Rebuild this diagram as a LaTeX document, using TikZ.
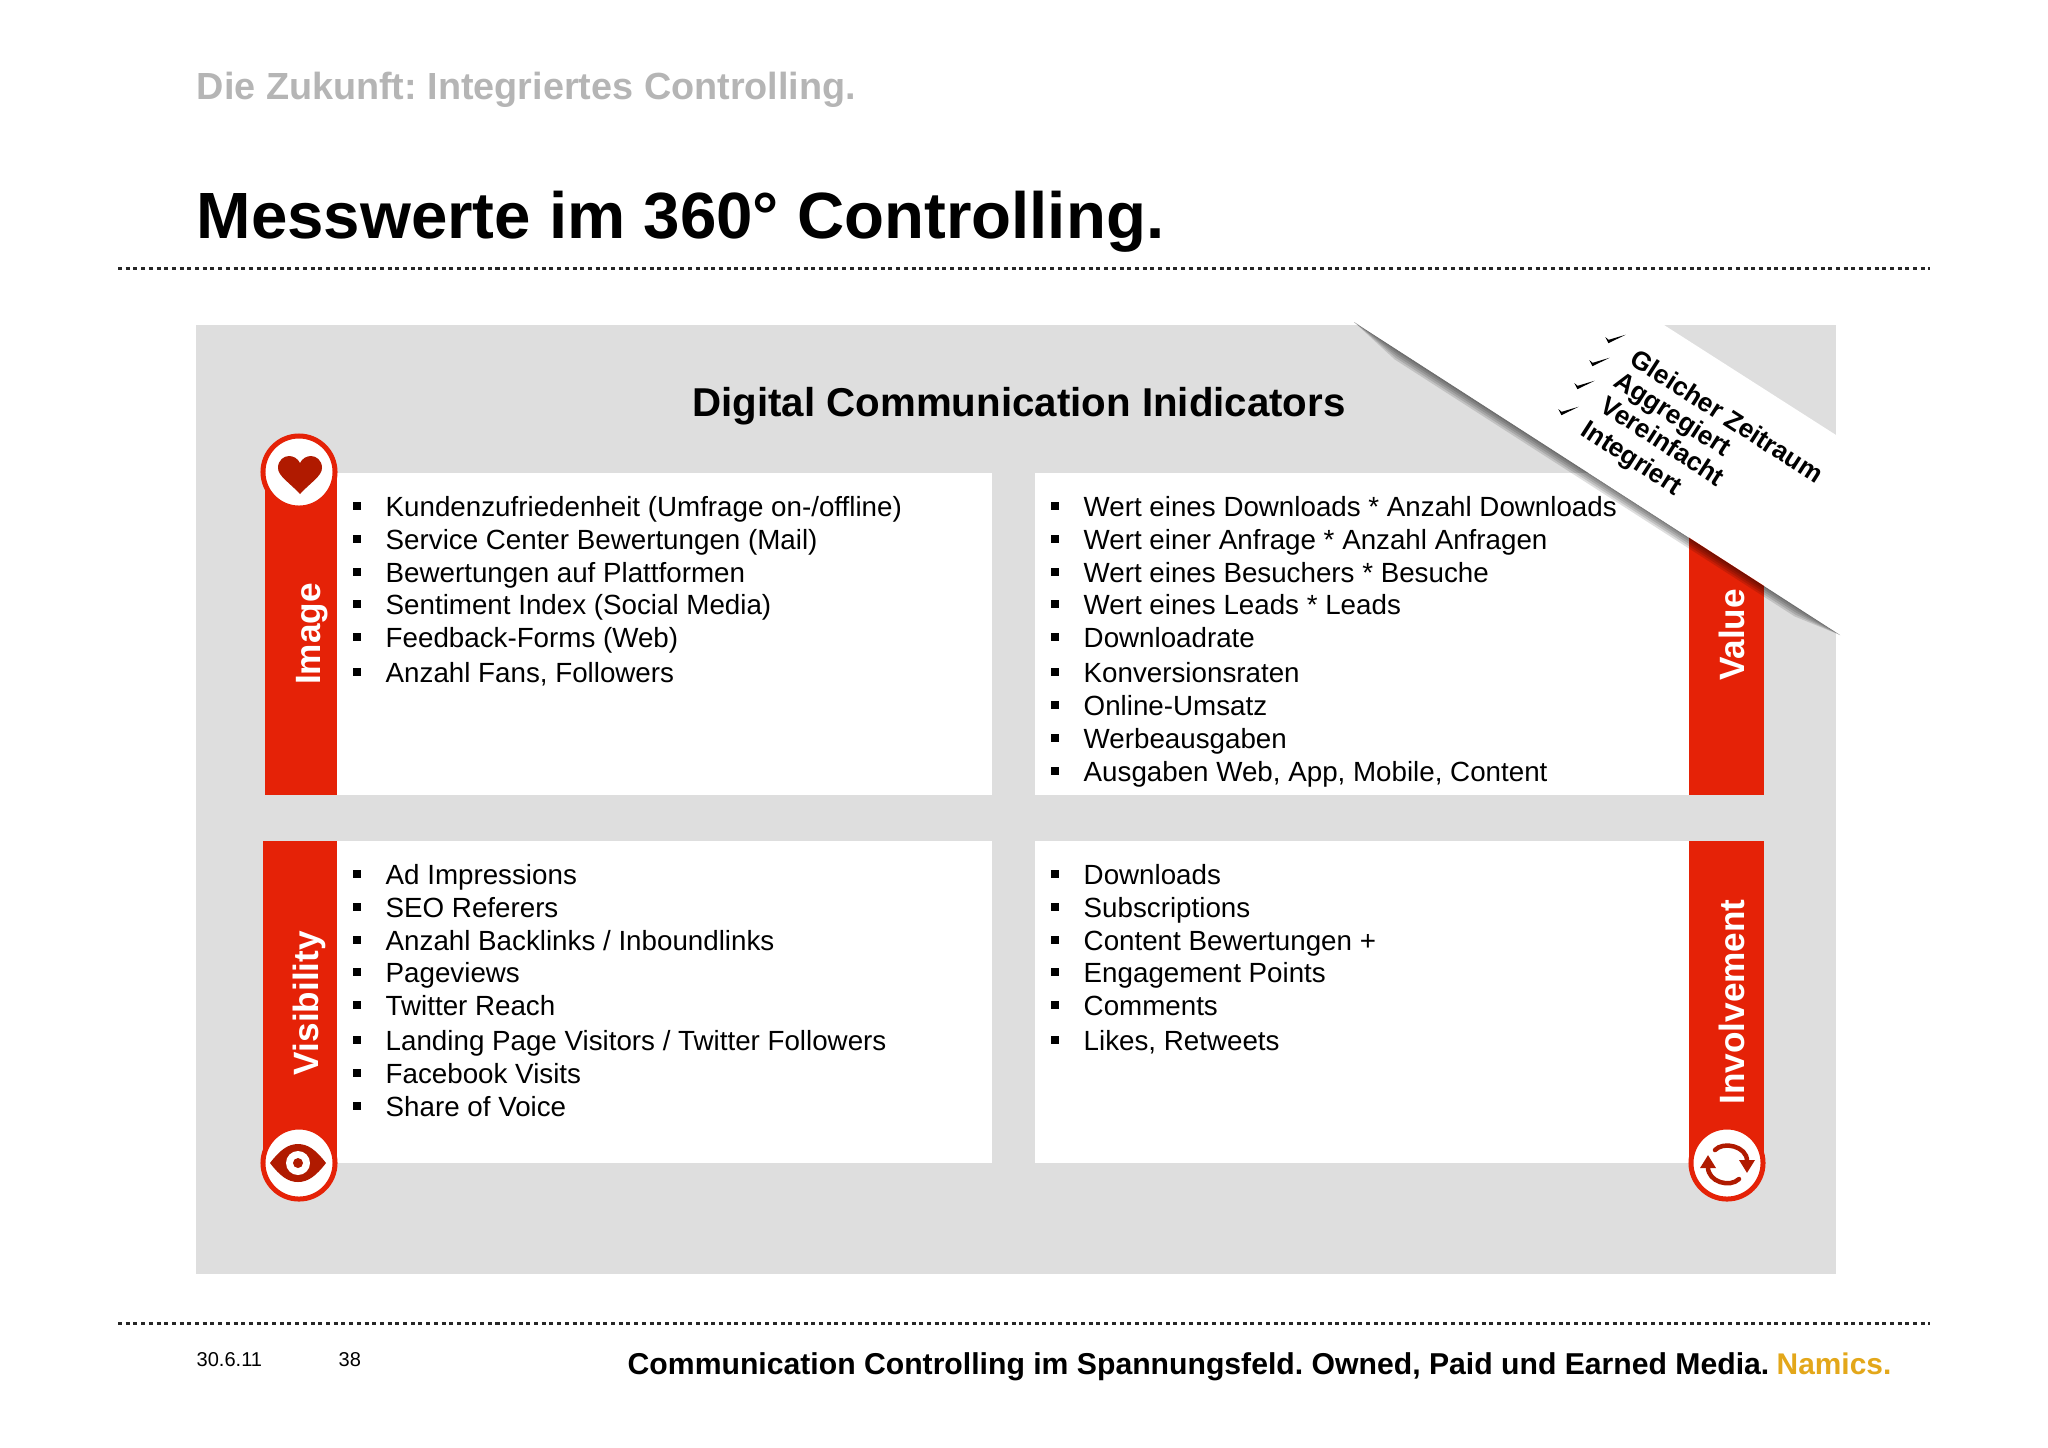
\documentclass[tikz,border=0pt]{standalone}
\usepackage{fontspec}
\setmainfont{Liberation Sans}
\setsansfont{Liberation Sans}
\usetikzlibrary{arrows.meta}
\definecolor{nmred}{HTML}{E52207}
\definecolor{nmdark}{HTML}{B01A00}
\definecolor{nmpanel}{HTML}{DEDEDE}
\definecolor{nmmuted}{HTML}{B5B5B5}
\definecolor{nmgold}{HTML}{E3A71A}
\tikzset{
  item/.style={anchor=west,inner sep=0pt,text height=.20cm,text depth=0pt,font=\fontsize{7.89pt}{9pt}\selectfont,text=black,
    label={[bulletbox,label distance=.23cm]left:}},
  bulletbox/.style={fill=black,inner sep=0pt,minimum size=.083cm},
  sheet/.style={fill=white},
  redbar/.style={fill=nmred},
  badge/.style={circle,draw=nmred,fill=white,line width=.05cm,minimum size=.72cm,inner sep=0pt},
  barlabel/.style={rotate=90,text=white,font=\fontsize{10pt}{11pt}\selectfont\bfseries,inner sep=0pt},
  slant/.style={rotate=-32.8,anchor=base west,inner sep=0pt,font=\fontsize{7.45pt}{9pt}\selectfont\bfseries,text=black},
  tickmark/.pic={\fill[black] (-2.7,-5) -- (.6,-2.2) -- (17.7,-7.3) -- (.4,1.2) -- cycle;},
  rule/.style={line width=.03cm,dash pattern=on .04cm off .037cm,draw=black!85},
  spin/.style={draw=nmdark,line width=.045cm,line cap=round,-{Triangle[length=.13cm,width=.15cm]}},
}
\begin{document}
\frenchspacing
\begin{tikzpicture}[font=\sffamily,x=.01cm,y=-.01cm]
  \useasboundingbox (0,0) rectangle (2048,1447);
  \node[anchor=base west,inner sep=0pt,text=nmmuted,font=\fontsize{10.75pt}{12pt}\selectfont\bfseries] (kicker) at (196,99) {Die Zukunft: Integriertes Controlling.};
  \node[anchor=base west,inner sep=0pt,font=\fontsize{18.6pt}{22pt}\selectfont\bfseries] (title) at (196,238) {Messwerte im 360° Controlling.};
  \draw[rule] (118,268) -- (1930,268);
  \draw[rule] (118,1323) -- (1930,1323);
  % panel and sheets
  \fill[nmpanel] (196,325) rectangle (1836,1274);
  \fill[sheet] (337,473) rectangle (992,795);
  \fill[sheet] (1035,473) rectangle (1690,795);
  \fill[sheet] (337,841) rectangle (992,1163);
  \fill[sheet] (1035,841) rectangle (1690,1163);
  \fill[redbar] (265,471) rectangle (337,795);
  \fill[redbar] (1689,500) rectangle (1764,795);
  \fill[redbar] (263,841) rectangle (337,1162);
  \fill[redbar] (1689,841) rectangle (1764,1162);
  \node[anchor=base,inner sep=0pt,font=\fontsize{11.45pt}{13pt}\selectfont\bfseries] (heading) at (1019,416) {Digital Communication Inidicators};
  % badges
  \node[badge] (imagebadge) at (299,472) {};
  \fill[nmdark] (300,494) .. controls (290,483) and (278,476) .. (278,468) .. controls (278,460) and (284,456) .. (289,456) .. controls (294,456) and (298,459) .. (300,463) .. controls (302,459) and (306,456) .. (311,456) .. controls (316,456) and (322,460) .. (322,468) .. controls (322,476) and (310,483) .. (300,494) -- cycle;
  \node[badge] (visibilitybadge) at (299,1163) {};
  \fill[nmdark] (270,1163) .. controls (280,1150) and (288,1144) .. (298,1144) .. controls (308,1144) and (316,1150) .. (326,1163) .. controls (316,1176) and (308,1182) .. (298,1182) .. controls (288,1182) and (280,1176) .. (270,1163) -- cycle;
  \fill[white] (298,1163) circle (12);
  \fill[nmdark] (298,1163) circle (5);
  \node[badge] (involvebadge) at (1727,1163) {};
  \draw[spin] (1715,1150) .. controls (1723,1141) and (1747,1146) .. (1747,1173);
  \draw[spin] (1739,1179) .. controls (1730,1188) and (1708,1182) .. (1708,1155);
  \node[barlabel] (image) at (312,634) {Image};
  \node[barlabel] (value) at (1732,635) {Value};
  \node[barlabel] (visibility) at (309,1003) {Visibility};
  \node[barlabel] (involvement) at (1732,1002) {Involvement};
  % image
  \node[item] (i1) at (385,506) {Kundenzufriedenheit (Umfrage on-/offline)};
  \node[item] (i2) at (385,539) {Service Center Bewertungen (Mail)};
  \node[item] (i3) at (385,572) {Bewertungen auf Plattformen};
  \node[item] (i4) at (385,604) {Sentiment Index (Social Media)};
  \node[item] (i5) at (385,637) {Feedback-Forms (Web)};
  \node[item] (i6) at (385,672) {Anzahl Fans, Followers};
  % value
  \node[item] (w1) at (1083,506) {Wert eines Downloads * Anzahl Downloads};
  \node[item] (w2) at (1083,539) {Wert einer Anfrage * Anzahl Anfragen};
  \node[item] (w3) at (1083,572) {Wert eines Besuchers * Besuche};
  \node[item] (w4) at (1083,604) {Wert eines Leads * Leads};
  \node[item] (w5) at (1083,637) {Downloadrate};
  \node[item] (w6) at (1083,672) {Konversionsraten};
  \node[item] (w7) at (1083,705) {Online-Umsatz};
  \node[item] (w8) at (1083,738) {Werbeausgaben};
  \node[item] (w9) at (1083,771) {Ausgaben Web, App, Mobile, Content};
  % visibility
  \node[item] (s1) at (385,874) {Ad Impressions};
  \node[item] (s2) at (385,907) {SEO Referers};
  \node[item] (s3) at (385,940) {Anzahl Backlinks / Inboundlinks};
  \node[item] (s4) at (385,972) {Pageviews};
  \node[item] (s5) at (385,1005) {Twitter Reach};
  \node[item] (s6) at (385,1040) {Landing Page Visitors / Twitter Followers};
  \node[item] (s7) at (385,1073) {Facebook Visits};
  \node[item] (s8) at (385,1106) {Share of Voice};
  % involvement
  \node[item] (e1) at (1083,874) {Downloads};
  \node[item] (e2) at (1083,907) {Subscriptions};
  \node[item] (e3) at (1083,940) {Content Bewertungen +};
  \node[item] (e4) at (1083,972) {Engagement Points};
  \node[item] (e5) at (1083,1005) {Comments};
  \node[item] (e6) at (1083,1040) {Likes, Retweets};
  % ribbon
  \foreach \d in {2,4,...,10} {
    \fill[black,opacity=.13] (1354,322) -- ({1400-.54*\d},{351+.84*\d}) -- ({1800-.54*\d},{608+.84*\d}) -- (1840,635) -- cycle;
  }
  \fill[white] (1359,325) -- (1664,325) -- (1836,435) -- (1836,632) -- cycle;
  \node[slant] (g1) at (1628,363) {Gleicher Zeitraum};
  \node[slant] (g2) at (1612,385) {Aggregiert};
  \node[slant] (g3) at (1598,410) {Vereinfacht};
  \node[slant] (g4) at (1579,434) {Integriert};
  \pic at (1608,342) {tickmark};
  \pic at (1592,365) {tickmark};
  \pic at (1577,388) {tickmark};
  \pic at (1561,414) {tickmark};
  % footer
  \node[anchor=base west,inner sep=0pt,font=\fontsize{5.7pt}{7pt}\selectfont] (date) at (196,1366) {30.6.11};
  \node[anchor=base west,inner sep=0pt,font=\fontsize{5.7pt}{7pt}\selectfont] (page) at (338,1366) {38};
  \node[anchor=base west,inner sep=0pt,font=\fontsize{8.58pt}{10pt}\selectfont\bfseries] (claim) at (627,1374) {Communication Controlling im Spannungsfeld. Owned, Paid und Earned Media.};
  \node[anchor=base west,inner sep=0pt,text=nmgold,font=\fontsize{8.5pt}{10pt}\selectfont\bfseries] (brand) at (1776,1374) {Namics.};
\end{tikzpicture}
\end{document}
